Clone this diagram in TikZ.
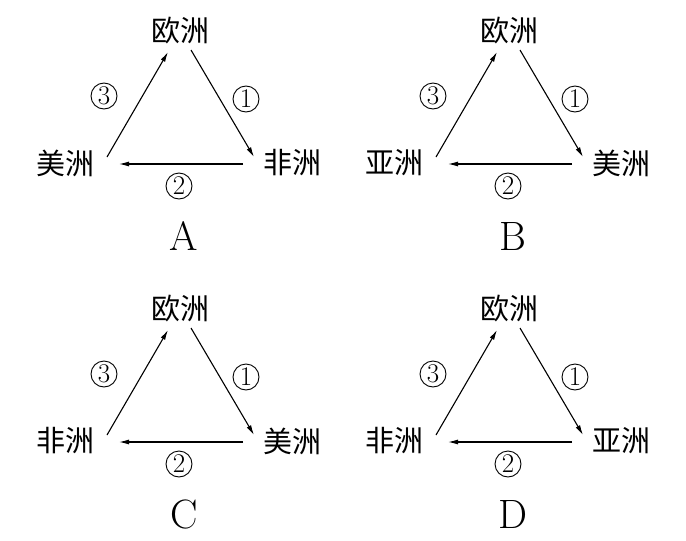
\documentclass[tikz,border=0pt]{standalone}
\usepackage{fontspec}
\usetikzlibrary{arrows.meta}
\newfontfamily\cjk{Noto Sans CJK SC}
\begin{document}
\begin{tikzpicture}[x=1pt,y=-1pt,
  place/.style={font=\cjk\fontsize{29}{29}\selectfont, inner sep=1pt},
  route/.style={-{Latex[length=10pt,width=5pt]}, line width=1.1pt},
  num/.style={circle, draw, line width=0.9pt, inner sep=0pt, minimum size=26pt, font=\fontsize{27}{27}\selectfont},
  letter/.style={font=\fontsize{41}{41}\selectfont}]
\useasboundingbox (0,0) rectangle (686,541);

\foreach \dx/\dy/\lft/\rgt/\lab in {0/0/美洲/非洲/A, 329/0/亚洲/美洲/B, 0/278/非洲/美洲/C, 329/278/非洲/亚洲/D}{
\begin{scope}[shift={(\dx,\dy)}]
% continents
\node[place] (top\lab) at (180,31) {欧洲};
\node[place] (lft\lab) at (65,163) {\lft};
\node[place] (rgt\lab) at (292,163) {\rgt};
% arrow ends
\coordinate (s1\lab) at (191,50);
\coordinate (e1\lab) at (254,157);
\coordinate (s2\lab) at (243,164);
\coordinate (e2\lab) at (119,164);
\coordinate (s3\lab) at (107,157);
\coordinate (e3\lab) at (168,52);
\draw[route] (s1\lab) -- (e1\lab);
\draw[route] (s2\lab) -- (e2\lab);
\draw[route] (s3\lab) -- (e3\lab);
% route numbers
\node[num] (n1\lab) at (246,99) {1};
\node[num] (n2\lab) at (179,186) {2};
\node[num] (n3\lab) at (104,96) {3};
\node[letter] (lab\lab) at (184,236) {\lab};
\end{scope}
}
\end{tikzpicture}
\end{document}
